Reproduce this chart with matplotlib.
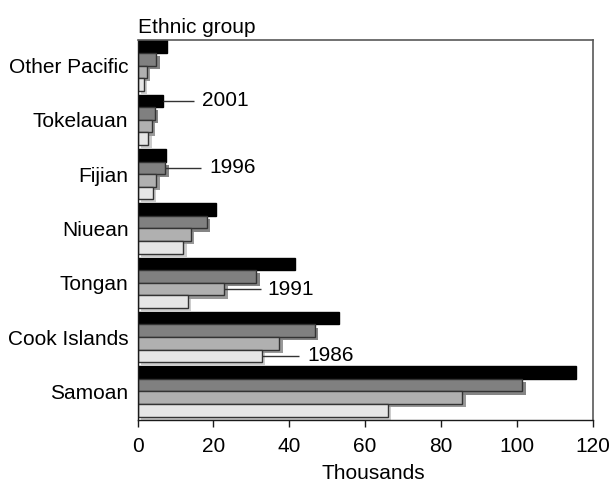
import numpy as np
import matplotlib.pyplot as plt
import matplotlib.patheffects as pe

plt.rcParams['font.family'] = ['Liberation Sans', 'DejaVu Sans']

# Pacific ethnic groups, bottom to top, population in thousands
groups = ['Samoan', 'Cook Islands', 'Tongan', 'Niuean', 'Fijian',
          'Tokelauan', 'Other Pacific']
years = ['2001', '1996', '1991', '1986']
pop_2001 = [115.5, 53.0, 41.4, 20.7, 7.5, 6.6, 7.7]
pop_1996 = [101.4, 46.7, 31.3, 18.2, 7.3, 4.6, 5.0]
pop_1991 = [85.6, 37.4, 22.9, 14.1, 4.9, 3.8, 2.4]
pop_1986 = [66.0, 32.7, 13.3, 12.1, 4.0, 2.8, 1.6]
series = [pop_2001, pop_1996, pop_1991, pop_1986]

fills = ['black', '0.5', '0.69', '0.9']
shadows = [None, '0.52', '0.6', '0.8']

# which bar carries each year label: (year index, group index, line end, text x)
year_labels = [(0, 5, 15.0, 17.0), (1, 4, 16.7, 18.9),
               (2, 2, 32.6, 34.3), (3, 1, 42.7, 44.8)]

fig = plt.figure(figsize=(6.15, 4.84), dpi=100)
ax = fig.add_axes([0.2236, 0.1312, 0.7401, 0.7855])

gap = 0.072
h = (1 - gap) / 4
pos = np.arange(len(groups))

for k, vals in enumerate(series):
    yk = pos + 0.5 - h / 2 - k * h
    ec = 'black' if k == 0 else '0.2'
    bars = ax.barh(yk, vals, height=h, color=fills[k], edgecolor=ec,
                   linewidth=1.0)
    if shadows[k] is None:
        continue
    for b in bars:
        b.set_path_effects([pe.SimplePatchShadow(offset=(2.5, -2.3),
                                                 shadow_rgbFace=shadows[k],
                                                 alpha=1.0),
                            pe.Normal()])

for k, gi, x_end, x_txt in year_labels:
    yy = gi + 0.5 - h / 2 - k * h
    ax.plot([series[k][gi], x_end], [yy, yy], color='0.2', lw=1.0,
            solid_capstyle='butt')
    ax.text(x_txt, yy, years[k], ha='left', va='center', fontsize=15)

ax.set_xlim(0, 120)
ax.set_ylim(-0.5, 6.5)
ax.set_xticks(np.arange(0, 121, 20))
ax.set_yticks(pos + 0.5 - 2 * h)
ax.set_yticklabels(groups)
ax.tick_params(axis='x', direction='out', length=5, width=1.0, pad=7,
               labelsize=15, color='0.1')
ax.tick_params(axis='y', length=0, pad=6.5, labelsize=15)

for side in ['left', 'bottom']:
    ax.spines[side].set_color('0.1')
    ax.spines[side].set_linewidth(1.0)
for side in ['top', 'right']:
    ax.spines[side].set_color('0.35')
    ax.spines[side].set_linewidth(1.2)

ax.set_xlabel('Thousands', fontsize=15)
ax.xaxis.set_label_coords(0.518, -0.115)
ax.annotate('Ethnic group', xy=(0, 1), xycoords='axes fraction',
            xytext=(0, 5.5), textcoords='offset points',
            ha='left', va='baseline', fontsize=15)

fig.savefig('out.png', dpi=100)
